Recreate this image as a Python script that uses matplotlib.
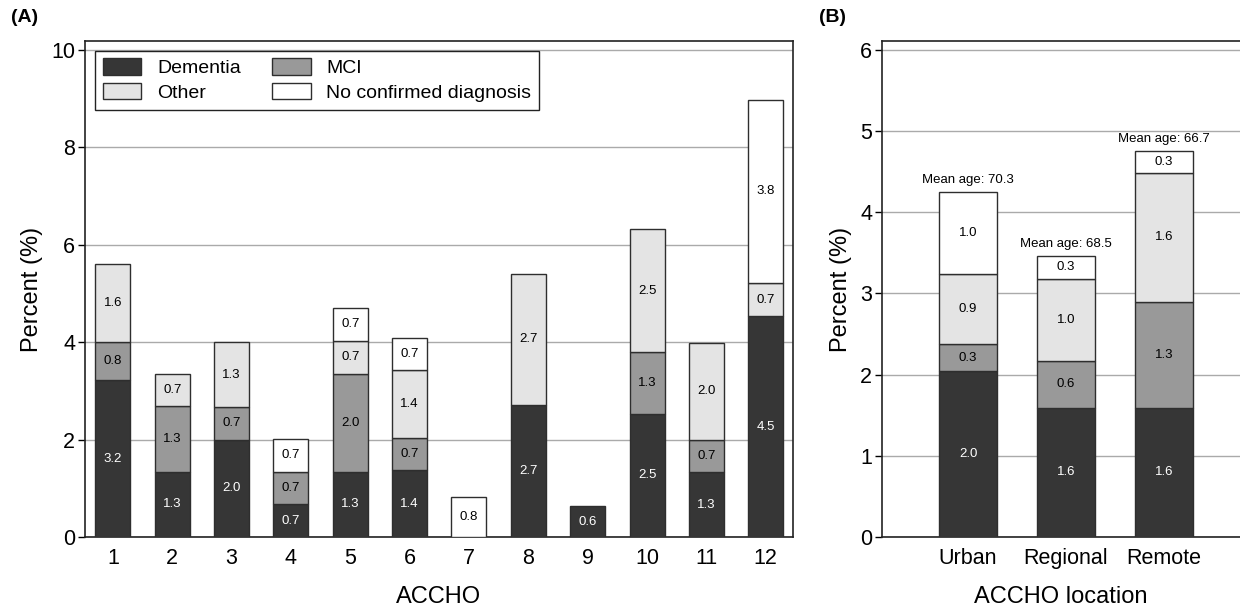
import numpy as np
import matplotlib
matplotlib.use("Agg")
import matplotlib.pyplot as plt
from matplotlib.patches import Patch

plt.rcParams['font.family'] = ['Liberation Sans', 'DejaVu Sans']

# (A) by ACCHO
accho = [1, 2, 3, 4, 5, 6, 7, 8, 9, 10, 11, 12]
dementia = [3.22, 1.34, 2.00, 0.67, 1.34, 1.37, 0, 2.71, 0.63, 2.53, 1.33, 4.53]
mci = [0.78, 1.34, 0.67, 0.67, 2.01, 0.67, 0, 0, 0, 1.26, 0.66, 0]
other = [1.61, 0.67, 1.33, 0, 0.68, 1.38, 0, 2.70, 0, 2.54, 2.00, 0.69]
no_diag = [0, 0, 0, 0.68, 0.67, 0.66, 0.82, 0, 0, 0, 0, 3.76]

# (B) by location
locations = ["Urban", "Regional", "Remote"]
dementia_loc = [2.04, 1.59, 1.59]
mci_loc = [0.34, 0.58, 1.31]
other_loc = [0.86, 1.01, 1.59]
no_diag_loc = [1.01, 0.28, 0.27]
mean_age = [70.3, 68.5, 66.7]

names = ["Dementia", "MCI", "Other", "No confirmed diagnosis"]
colors = ["#363636", "#999999", "#e4e4e4", "#ffffff"]
txt_colors = ["white", "black", "black", "black"]
edge = "#2e2e2e"


def stacked(ax, x, series, width):
    bottom = np.zeros(len(x))
    for vals, c, tc in zip(series, colors, txt_colors):
        vals = np.array(vals, dtype=float)
        m = vals > 0
        ax.bar(np.array(x)[m], vals[m], width, bottom=bottom[m], color=c,
               edgecolor=edge, linewidth=1, zorder=3)
        for xi, b, v in zip(np.array(x)[m], bottom[m], vals[m]):
            ax.text(xi, b + v / 2, f"{v:.1f}", ha='center', va='center',
                    fontsize=9.5, color=tc, zorder=4)
        bottom = bottom + vals
    return bottom


def style(ax):
    ax.set_axisbelow(True)
    ax.yaxis.grid(True, color='#aaaaaa', linewidth=1)
    for s in ax.spines.values():
        s.set_linewidth(1.2)
        s.set_color('#222222')
    ax.tick_params(axis='y', length=5, width=1, labelsize=15.5, pad=2)
    ax.tick_params(axis='x', length=0, labelsize=15.5, pad=8)


fig = plt.figure(figsize=(12.4, 6.06), dpi=100)

axA = fig.add_axes([85 / 1240, 69 / 606, 708 / 1240, 496 / 606])
stacked(axA, accho, [dementia, mci, other, no_diag], 0.59)
style(axA)
axA.set_xlim(0.53, 12.46)
axA.set_ylim(0, 10.185)
axA.set_xticks(accho)
axA.set_yticks([0, 2, 4, 6, 8, 10])
axA.set_xlabel("ACCHO", fontsize=17, labelpad=12)
axA.set_ylabel("Percent (%)", fontsize=17, labelpad=6)

handles = [Patch(facecolor=c, edgecolor=edge, linewidth=1) for c in colors]
order = [0, 2, 1, 3]
leg = axA.legend([handles[i] for i in order], [names[i] for i in order],
                 ncol=2, loc='upper left', fontsize=14, frameon=True,
                 fancybox=False, edgecolor='#222222', framealpha=1,
                 borderaxespad=0.5, handlelength=2.0, handleheight=0.9,
                 columnspacing=1.6, borderpad=0.4, labelspacing=0.3)
leg.get_frame().set_linewidth(1)

axB = fig.add_axes([882 / 1240, 69 / 606, 358 / 1240, 496 / 606])
xb = np.arange(len(locations))
tops = stacked(axB, xb, [dementia_loc, mci_loc, other_loc, no_diag_loc], 0.59)
for xi, t, a in zip(xb, tops, mean_age):
    axB.text(xi, t + 0.07, f"Mean age: {a}", ha='center', va='bottom',
             fontsize=9.5, zorder=4)
style(axB)
axB.spines['right'].set_visible(False)
axB.set_xlim(-0.878, 2.776)
axB.set_ylim(0, 6.11)
axB.set_xticks(xb)
axB.set_xticklabels(locations)
axB.set_yticks([0, 1, 2, 3, 4, 5, 6])
axB.set_xlabel("ACCHO location", fontsize=17, labelpad=12)
axB.set_ylabel("Percent (%)", fontsize=17, labelpad=6)

fig.text(11 / 1240, 1 - 18 / 606, "(A)", fontsize=14, fontweight='bold',
         va='center', ha='left')
fig.text(819 / 1240, 1 - 18 / 606, "(B)", fontsize=14, fontweight='bold',
         va='center', ha='left')

fig.savefig("out.png", dpi=100)
